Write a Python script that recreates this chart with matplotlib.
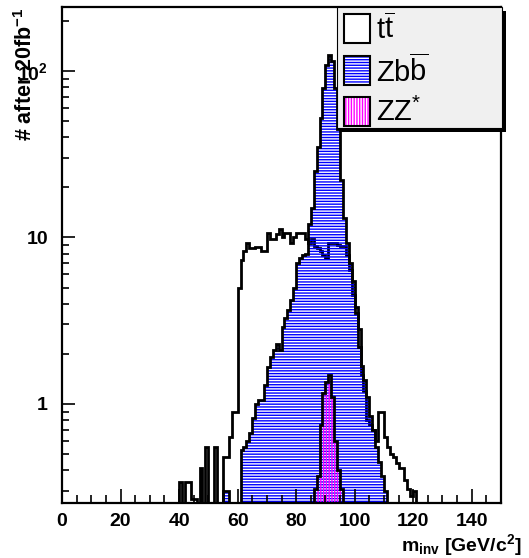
import numpy as np
import matplotlib
matplotlib.use("Agg")
import matplotlib.pyplot as plt
from matplotlib.patches import Rectangle
from matplotlib.ticker import FixedLocator, FixedFormatter, MultipleLocator, LogLocator, NullFormatter

plt.rcParams['font.family'] = ['Liberation Sans', 'DejaVu Sans']
plt.rcParams['mathtext.default'] = 'regular'
plt.rcParams['hatch.linewidth'] = 1.0

# histogram binning (1 GeV bins, 0-150)
n_bins = 150
edges = np.arange(0, n_bins + 1)

# ttbar, starting at bin 38
tt_start = 38
tt_counts = [0, 0, 0.34, 0, 0.34, 0.34, 0.27, 0.27, 0, 0.41,
             0, 0.55, 0, 0, 0.55, 0, 0, 0.48, 0.48, 0.63,
             0.9, 0.9, 5.0, 7.3, 8.3, 9.3, 8.6, 8.6, 8.7, 8.7,
             8.3, 8.3, 10.6, 9.8, 9.8, 10.5, 11.3, 10.0, 10.6, 10.6,
             9.3, 10.0, 10.6, 10.6, 10.6, 9.8, 9.3, 9.8, 8.9, 8.6,
             8.3, 7.8, 7.5, 9.3, 9.3, 9.2, 9.0, 8.9, 8.9, 7.8,
             6.4, 4.5, 3.8, 2.8, 1.5, 1.2, 0.8, 0.75, 0.7, 0.6,
             0.9, 0.9, 0.63, 0.55, 0.5, 0.48, 0.44, 0.41, 0.41, 0.35,
             0.31, 0.28, 0.3]

# Z b bbar, starting at bin 55
zbb_start = 55
zbb_counts = [0.30, 0.30, 0, 0, 0, 0, 0.53, 0.55, 0.6, 0.67,
              0.82, 1.0, 1.06, 1.06, 1.3, 1.67, 1.9, 2.1, 2.3, 2.1,
              2.9, 3.3, 3.65, 4.2, 5.0, 7.0, 7.5, 7.8, 8.0, 12,
              15, 25, 35, 52, 79, 108, 124, 115, 79, 45,
              22, 13, 9.2, 7.0, 5.5, 3.5, 2.2, 1.7, 1.4, 1.1,
              0.85, 0.7, 0.55, 0.45, 0.37, 0.3]

# ZZ*, starting at bin 86
zz_start = 86
zz_counts = [0.31, 0.37, 0.75, 1.16, 1.35, 1.5, 1.1, 0.6, 0.4, 0.31]


def full_hist(start, counts):
    h = np.zeros(n_bins)
    h[start:start + len(counts)] = counts
    return np.where(h > 0, h, 1e-3)


tt = full_hist(tt_start, tt_counts)
zbb = full_hist(zbb_start, zbb_counts)
zz = full_hist(zz_start, zz_counts)

W, H = 529, 558
fig = plt.figure(figsize=(W / 100, H / 100), dpi=100)
fig.patch.set_facecolor('white')


def fx(px):
    return px / W


def fy(py):
    return 1 - py / H


ax = fig.add_axes([fx(62), fy(503), fx(501) - fx(62), fy(7) - fy(503)])
ax.set_yscale('log')

line_w = 2.0
# ttbar: white fill, black outline
ax.stairs(tt, edges, baseline=1e-3, fill=True, facecolor='white', edgecolor='none')
ax.stairs(tt, edges, baseline=1e-3, color='black', lw=line_w)
# Zbb: blue horizontal hatch
ax.stairs(zbb, edges, baseline=1e-3, fill=True, facecolor='none', edgecolor='#0000ff',
          hatch='------', lw=0)
ax.stairs(zbb, edges, baseline=1e-3, color='black', lw=line_w)
# ZZ*: magenta vertical hatch
ax.stairs(zz, edges, baseline=1e-3, fill=True, facecolor='none', edgecolor='#ff00ff',
          hatch='||||||', lw=0)
ax.stairs(zz, edges, baseline=1e-3, color='black', lw=line_w)

ax.set_xlim(0, 150)
ax.set_ylim(0.254, 242)

for s in ax.spines.values():
    s.set_linewidth(1.6)
    s.set_zorder(4)

ax.xaxis.set_major_locator(MultipleLocator(20))
ax.xaxis.set_minor_locator(MultipleLocator(5))
ax.yaxis.set_major_locator(FixedLocator([1, 10, 100]))
ax.yaxis.set_major_formatter(FixedFormatter(['1', '10', '10$^{2}$']))
ax.yaxis.set_minor_locator(LogLocator(base=10, subs=np.arange(2, 10)))
ax.yaxis.set_minor_formatter(NullFormatter())

ax.tick_params(which='both', direction='in', top=False, right=False, width=1.2)
ax.tick_params(axis='y', which='major', length=9.5, pad=10)
ax.tick_params(axis='y', which='minor', length=5)
ax.tick_params(axis='x', which='major', length=10, pad=7)
ax.tick_params(axis='x', which='minor', length=5.5)
for lab in ax.get_xticklabels() + ax.get_yticklabels():
    lab.set_fontweight('bold')
    lab.set_fontsize(14)

fig.text(fx(26), fy(7), '# after 20fb$^{-1}$', rotation=90, ha='center', va='top',
         fontsize=15.5, fontweight='bold')
fig.text(fx(522), fy(545), 'm$_{inv}$ [GeV/c$^{2}$]', ha='right', va='center',
         fontsize=14, fontweight='bold')

# legend box with shadow
fig.add_artist(Rectangle((fx(341), fy(132)), fx(502) - fx(337), fy(7) - fy(128),
                         transform=fig.transFigure, facecolor='black', edgecolor='none', zorder=5))
fig.add_artist(Rectangle((fx(337), fy(128)), fx(502) - fx(337), fy(7) - fy(128),
                         transform=fig.transFigure, facecolor='#f0f0f0', edgecolor='black',
                         lw=0.8, zorder=6))

entries = [
    (r'$\mathregular{t\overline{t}}$', dict(hatch=None, hc='black'), 14),
    (r'Zb$\mathregular{\overline{b}}$', dict(hatch='------', hc='#0000ff'), 56),
    ('ZZ$^{*}$', dict(hatch='||||||', hc='#ff00ff'), 97),
]
for label, sty, top in entries:
    x0, y0 = fx(344), fy(top + 29)
    w, h = fx(370) - fx(344), fy(top) - fy(top + 29)
    if sty['hatch']:
        fig.add_artist(Rectangle((x0, y0), w, h, transform=fig.transFigure,
                                 facecolor='white', edgecolor=sty['hc'], hatch=sty['hatch'],
                                 lw=0, zorder=7))
    else:
        fig.add_artist(Rectangle((x0, y0), w, h, transform=fig.transFigure,
                                 facecolor='white', edgecolor='none', zorder=7))
    fig.add_artist(Rectangle((x0, y0), w, h, transform=fig.transFigure,
                             facecolor='none', edgecolor='black', lw=1.5, zorder=8))
    fig.text(fx(376), fy(top + 15), label, ha='left', va='center', fontsize=21, zorder=9)

fig.savefig('out.png', dpi=100)
